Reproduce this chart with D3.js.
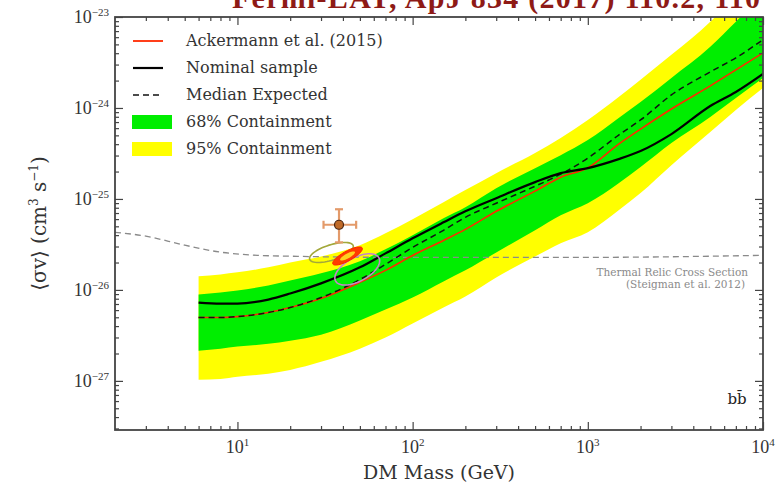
<!DOCTYPE html>
<html>
<head>
<meta charset="utf-8">
<script src="https://cdn.jsdelivr.net/npm/d3@7"></script>
<style>
  body { margin: 0; background: #fff; }
  svg { display: block; }
  text { font-family: "DejaVu Serif", serif; fill: #222; }
</style>
</head>
<body>
<svg id="chart" width="780" height="490"></svg>
<script>
// DM mass grid (GeV) shared by the bands and limit curves
var masses = [6, 8, 10, 15, 20, 30, 50, 70, 100, 150, 200, 300, 500, 700, 1000, 1500, 2000, 3000, 5000, 7000, 10000];

var yellowHigh = [1.41e-26, 1.48e-26, 1.56e-26, 1.77e-26, 2.0e-26, 2.33e-26, 3.09e-26, 4.19e-26, 5.97e-26, 9.2e-26, 1.25e-25, 1.92e-25, 3.19e-25, 4.67e-25, 7.38e-25, 1.32e-24, 2.04e-24, 3.84e-24, 8.87e-24, 1.76e-23, 3.78e-23];
var greenHigh = [8.89e-27, 9.35e-27, 9.84e-27, 1.12e-26, 1.27e-26, 1.52e-26, 2.06e-26, 2.79e-26, 3.98e-26, 6.13e-26, 8.10e-26, 1.31e-25, 2.18e-25, 3.03e-25, 4.44e-25, 7.76e-25, 1.16e-24, 2.14e-24, 4.71e-24, 8.87e-24, 1.76e-23];
var greenLow = [2.15e-27, 2.26e-27, 2.38e-27, 2.56e-27, 2.77e-27, 3.22e-27, 4.60e-27, 6.08e-27, 8.24e-27, 1.24e-26, 1.64e-26, 2.58e-26, 4.52e-26, 6.61e-26, 8.97e-26, 1.49e-25, 2.24e-25, 4.11e-25, 7.96e-25, 1.29e-24, 2.14e-24];
var yellowLow = [1.03e-27, 1.05e-27, 1.11e-27, 1.20e-27, 1.32e-27, 1.62e-27, 2.26e-27, 2.99e-27, 4.26e-27, 6.40e-27, 8.45e-27, 1.37e-26, 2.33e-26, 3.25e-26, 4.30e-26, 7.50e-26, 1.16e-25, 2.35e-25, 5.43e-25, 9.51e-25, 1.66e-24];

var ackermann = [4.97e-27, 4.97e-27, 5.09e-27, 5.64e-27, 6.40e-27, 8.04e-27, 1.21e-26, 1.64e-26, 2.39e-26, 3.50e-26, 4.63e-26, 7.31e-26, 1.22e-25, 1.73e-25, 2.20e-25, 4.01e-25, 5.86e-25, 9.75e-25, 1.75e-24, 2.62e-24, 4.04e-24];
var nominal = [7.26e-27, 7.08e-27, 7.08e-27, 7.83e-27, 9.12e-27, 1.18e-26, 1.77e-26, 2.52e-26, 3.69e-26, 5.53e-26, 7.31e-26, 1.02e-25, 1.53e-25, 1.92e-25, 2.18e-25, 2.74e-25, 3.36e-25, 5.16e-25, 1.05e-24, 1.50e-24, 2.37e-24];
var median = [4.97e-27, 4.97e-27, 5.09e-27, 5.64e-27, 6.40e-27, 8.24e-27, 1.30e-26, 1.91e-26, 2.93e-26, 4.52e-26, 6.28e-26, 8.97e-26, 1.38e-25, 1.87e-25, 2.81e-25, 5.03e-25, 7.38e-25, 1.39e-24, 2.49e-24, 3.56e-24, 5.62e-24];

// thermal relic cross section (Steigman et al. 2012)
var relicMass = [2, 3, 5, 8, 13, 22, 80, 1000, 10000];
var relicXsec = [4.3e-26, 3.9e-26, 3.1e-26, 2.6e-26, 2.4e-26, 2.34e-26, 2.28e-26, 2.28e-26, 2.4e-26];

// GC excess best fit point with error bars
var gceMass = 38, gceXsec = 5.2e-26;
var gceMassRange = [31, 47.6];
var gceXsecRange = [3.33e-26, 7.7e-26];

// GC excess contours: centre mass, centre xsec, half widths (dex), tilt
var contourMass = [34.4, 48.3, 42.5];
var contourXsec = [2.58e-26, 1.68e-26, 2.36e-26];
var contourDexM = [0.125, 0.128, 0.085];
var contourDexS = [0.11, 0.172, 0.1];
var contourTilt = [0.6, 0.55, 0.8];

var legendLabels = ["Ackermann et al. (2015)", "Nominal sample", "Median Expected", "68% Containment", "95% Containment"];
var xTicks = [10, 100, 1000, 10000];
var yTicks = [1e-27, 1e-26, 1e-25, 1e-24, 1e-23];

var svg = d3.select("#chart"),
  MARGINS = { top: 17, right: 17, bottom: 60, left: 115 },
  WIDTH = 780, HEIGHT = 490;

var x = d3.scaleLog().domain([2, 1e4]).range([MARGINS.left, 763]);
var y = d3.scaleLog().domain([Math.pow(10, -27.54), 1e-23]).range([430, MARGINS.top]);

svg.append("clipPath").attr("id", "plotclip")
  .append("rect")
  .attr("x", x.range()[0]).attr("y", y.range()[1])
  .attr("width", x.range()[1] - x.range()[0])
  .attr("height", y.range()[0] - y.range()[1]);

// title (cut off by the top of the image, as in the source)
svg.append("text")
  .attr("x", 232).attr("y", 8)
  .attr("textLength", 528)
  .style("font-family", "'Liberation Serif', serif")
  .style("font-weight", "bold")
  .style("font-size", "30px")
  .style("fill", "#8e1a16")
  .text("Fermi-LAT, ApJ 834 (2017) 110.2, 110");

var plot = svg.append("g").attr("clip-path", "url(#plotclip)");

var bandData = masses.map(function (m, i) {
  return { m: m, yl: yellowLow[i], yh: yellowHigh[i], gl: greenLow[i], gh: greenHigh[i] };
});

var yellowArea = d3.area()
  .x(function (d) { return x(d.m); })
  .y0(function (d) { return y(d.yl); })
  .y1(function (d) { return y(d.yh); })
  .curve(d3.curveMonotoneX);

var greenArea = d3.area()
  .x(function (d) { return x(d.m); })
  .y0(function (d) { return y(d.gl); })
  .y1(function (d) { return y(d.gh); })
  .curve(d3.curveMonotoneX);

plot.append("path").attr("d", yellowArea(bandData)).attr("fill", "#ffff00");
plot.append("path").attr("d", greenArea(bandData)).attr("fill", "#00ee00");

function curveOf(xs, ys) {
  return d3.line()
    .x(function (d) { return x(d[0]); })
    .y(function (d) { return y(d[1]); })
    .curve(d3.curveMonotoneX)(xs.map(function (m, i) { return [m, ys[i]]; }));
}

// thermal relic line
plot.append("path")
  .attr("d", curveOf(relicMass, relicXsec))
  .attr("fill", "none")
  .attr("stroke", "#8a8a8a")
  .attr("stroke-width", 1.3)
  .attr("stroke-dasharray", "6,4");

plot.append("path")
  .attr("d", curveOf(masses, ackermann))
  .attr("fill", "none")
  .attr("stroke", "#ff2a00")
  .attr("stroke-width", 1.6);

plot.append("path")
  .attr("d", curveOf(masses, median))
  .attr("fill", "none")
  .attr("stroke", "#111")
  .attr("stroke-width", 1.5)
  .attr("stroke-dasharray", "6,4");

plot.append("path")
  .attr("d", curveOf(masses, nominal))
  .attr("fill", "none")
  .attr("stroke", "#000")
  .attr("stroke-width", 2.2);

// contours, drawn as tilted ellipses in log-log space
function ellipse(i, shrink) {
  var pts = d3.range(0, 361, 6).map(function (a) {
    var t = a * Math.PI / 180;
    var lm = Math.log10(contourMass[i]) + shrink * contourDexM[i] * Math.cos(t);
    var ls = Math.log10(contourXsec[i]) + shrink * contourDexS[i] *
      (contourTilt[i] * Math.cos(t) + Math.sqrt(1 - contourTilt[i] * contourTilt[i]) * Math.sin(t));
    return [Math.pow(10, lm), Math.pow(10, ls)];
  });
  return d3.line()
    .x(function (d) { return x(d[0]); })
    .y(function (d) { return y(d[1]); })
    .curve(d3.curveLinearClosed)(pts);
}

plot.append("path").attr("d", ellipse(0, 1))
  .attr("fill", "none").attr("stroke", "#a3a83a").attr("stroke-width", 1.6);
plot.append("path").attr("d", ellipse(1, 1))
  .attr("fill", "none").attr("stroke", "#c584c8").attr("stroke-width", 1.6);
plot.append("path").attr("d", ellipse(2, 1))
  .attr("fill", "#ff3b00").attr("stroke", "#ff2000").attr("stroke-width", 1);
plot.append("path").attr("d", ellipse(2, 0.5))
  .attr("fill", "#ffd21e").attr("stroke", "none");

// GCE point with error bars
var eb = plot.append("g").attr("stroke", "#e39a6a").attr("stroke-width", 2.2);
eb.append("line")
  .attr("x1", x(gceMassRange[0])).attr("x2", x(gceMassRange[1]))
  .attr("y1", y(gceXsec)).attr("y2", y(gceXsec));
eb.append("line")
  .attr("x1", x(gceMass)).attr("x2", x(gceMass))
  .attr("y1", y(gceXsecRange[0])).attr("y2", y(gceXsecRange[1]));
[gceMassRange[0], gceMassRange[1]].forEach(function (m) {
  eb.append("line").attr("x1", x(m)).attr("x2", x(m))
    .attr("y1", y(gceXsec) - 4).attr("y2", y(gceXsec) + 4);
});
[gceXsecRange[0], gceXsecRange[1]].forEach(function (v) {
  eb.append("line").attr("x1", x(gceMass) - 4).attr("x2", x(gceMass) + 4)
    .attr("y1", y(v)).attr("y2", y(v));
});
plot.append("circle")
  .attr("cx", x(gceMass)).attr("cy", y(gceXsec)).attr("r", 4.5)
  .attr("fill", "#c06a28").attr("stroke", "#4a2410").attr("stroke-width", 1.2);

// annotations
svg.append("text").attr("x", 748).attr("y", 276)
  .attr("text-anchor", "end").style("font-size", "10.5px").style("fill", "#8a8a8a")
  .text("Thermal Relic Cross Section");
svg.append("text").attr("x", 745).attr("y", 288)
  .attr("text-anchor", "end").style("font-size", "10.5px").style("fill", "#8a8a8a")
  .text("(Steigman et al. 2012)");
svg.append("text").attr("x", 737).attr("y", 404)
  .attr("text-anchor", "middle").style("font-size", "15px")
  .text("b\u0062\u0304");

// axes with inward ticks on all four sides
function minorTicks(domain) {
  var out = [];
  var lo = Math.floor(Math.log10(domain[0])), hi = Math.ceil(Math.log10(domain[1]));
  for (var e = lo; e < hi; e++) {
    for (var k = 2; k <= 9; k++) {
      var v = k * Math.pow(10, e);
      if (v > domain[0] * 1.001 && v < domain[1] * 0.999) out.push(v);
    }
  }
  return out;
}

var axisColor = "#444";
var xb = y.range()[0], xt = y.range()[1], yl = x.range()[0], yr = x.range()[1];

var axes = [
  svg.append("g").attr("transform", "translate(0," + xb + ")").call(d3.axisBottom(x).tickValues(xTicks).tickSize(-8).tickFormat("")),
  svg.append("g").attr("transform", "translate(0," + xb + ")").call(d3.axisBottom(x).tickValues(minorTicks(x.domain())).tickSize(-4).tickFormat("")),
  svg.append("g").attr("transform", "translate(0," + xt + ")").call(d3.axisTop(x).tickValues(xTicks).tickSize(-8).tickFormat("")),
  svg.append("g").attr("transform", "translate(0," + xt + ")").call(d3.axisTop(x).tickValues(minorTicks(x.domain())).tickSize(-4).tickFormat("")),
  svg.append("g").attr("transform", "translate(" + yl + ",0)").call(d3.axisLeft(y).tickValues(yTicks).tickSize(-8).tickFormat("")),
  svg.append("g").attr("transform", "translate(" + yl + ",0)").call(d3.axisLeft(y).tickValues(minorTicks(y.domain())).tickSize(-4).tickFormat("")),
  svg.append("g").attr("transform", "translate(" + yr + ",0)").call(d3.axisRight(y).tickValues(yTicks).tickSize(-8).tickFormat("")),
  svg.append("g").attr("transform", "translate(" + yr + ",0)").call(d3.axisRight(y).tickValues(minorTicks(y.domain())).tickSize(-4).tickFormat(""))
];
axes.forEach(function (g) {
  g.select(".domain").remove();
  g.selectAll("line").attr("stroke", axisColor).attr("stroke-width", 1.2);
});

svg.append("rect")
  .attr("x", yl).attr("y", xt)
  .attr("width", yr - yl).attr("height", xb - xt)
  .attr("fill", "none").attr("stroke", axisColor).attr("stroke-width", 1.8);

// power-of-ten tick labels
xTicks.forEach(function (v) {
  var t = svg.append("text")
    .attr("x", x(v)).attr("y", xb + 23)
    .attr("text-anchor", "middle")
    .style("font-family", "'Liberation Serif', serif")
    .style("font-size", "18px").style("fill", "#333");
  t.append("tspan").text("10");
  t.append("tspan").attr("dy", -7).style("font-size", "11px").text(Math.round(Math.log10(v)));
});
yTicks.forEach(function (v) {
  var t = svg.append("text")
    .attr("x", yl - 6).attr("y", y(v) + 6)
    .attr("text-anchor", "end")
    .style("font-family", "'Liberation Serif', serif")
    .style("font-size", "18px").style("fill", "#333");
  t.append("tspan").text("10");
  t.append("tspan").attr("dy", -7).style("font-size", "11px").text("\u2212" + Math.abs(Math.round(Math.log10(v))));
});

// axis titles
svg.append("text")
  .attr("x", (yl + yr) / 2).attr("y", 479)
  .attr("text-anchor", "middle")
  .style("font-size", "19px").style("fill", "#333")
  .text("DM Mass (GeV)");

var yt = svg.append("text")
  .attr("transform", "translate(46," + ((xb + xt) / 2) + ") rotate(-90)")
  .attr("text-anchor", "middle")
  .style("font-size", "20px").style("fill", "#333");
yt.append("tspan").text("\u27e8\u03c3v\u27e9 (cm");
yt.append("tspan").attr("dy", -8).style("font-size", "12px").text("3");
yt.append("tspan").attr("dy", 8).text(" s");
yt.append("tspan").attr("dy", -8).style("font-size", "12px").text("\u22121");
yt.append("tspan").attr("dy", 8).text(")");

// legend
var legend = svg.append("g");
legendLabels.forEach(function (label, i) {
  var ly = 41 + i * 27;
  if (i === 0) {
    legend.append("line").attr("x1", 133).attr("x2", 163).attr("y1", ly).attr("y2", ly)
      .attr("stroke", "#ff2a00").attr("stroke-width", 1.8);
  } else if (i === 1) {
    legend.append("line").attr("x1", 133).attr("x2", 163).attr("y1", ly).attr("y2", ly)
      .attr("stroke", "#000").attr("stroke-width", 2.2);
  } else if (i === 2) {
    legend.append("line").attr("x1", 133).attr("x2", 163).attr("y1", ly).attr("y2", ly)
      .attr("stroke", "#111").attr("stroke-width", 1.5).attr("stroke-dasharray", "6,4");
  } else {
    legend.append("rect").attr("x", 132).attr("y", ly - 7).attr("width", 40).attr("height", 14)
      .attr("fill", i === 3 ? "#00ee00" : "#ffff00");
  }
  legend.append("text")
    .attr("x", 186).attr("y", ly + 5)
    .style("font-size", "16px").style("fill", "#333")
    .text(label);
});
</script>
</body>
</html>
